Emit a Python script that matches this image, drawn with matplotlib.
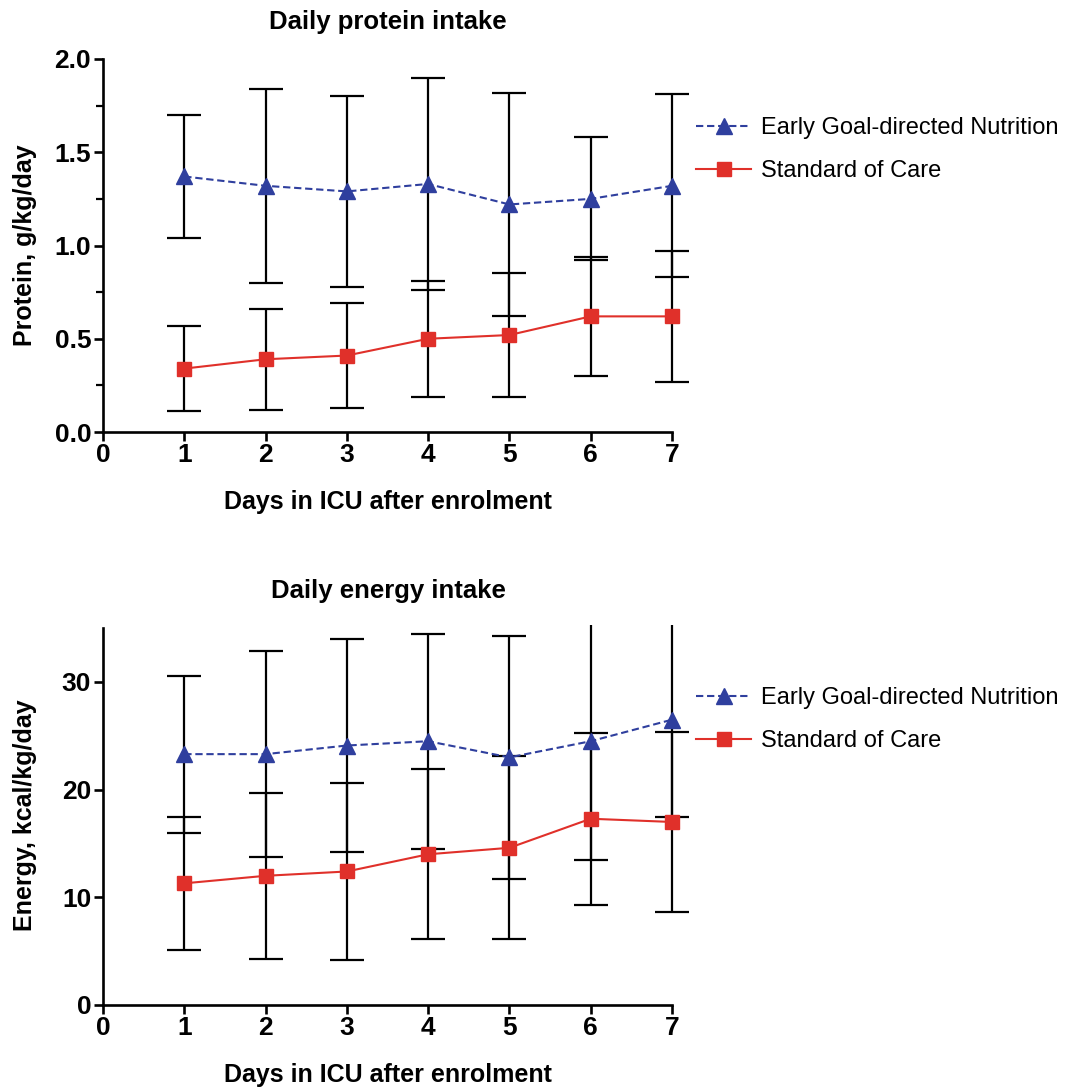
import matplotlib
matplotlib.use("Agg")
import matplotlib.pyplot as plt

days = [1, 2, 3, 4, 5, 6, 7]
series_names = ["Early Goal-directed Nutrition", "Standard of Care"]

protein_egdn_mean = [1.37, 1.32, 1.29, 1.33, 1.22, 1.25, 1.32]
protein_egdn_sd = [0.33, 0.52, 0.51, 0.57, 0.60, 0.33, 0.49]
protein_soc_mean = [0.34, 0.39, 0.41, 0.50, 0.52, 0.62, 0.62]
protein_soc_sd = [0.23, 0.27, 0.28, 0.31, 0.33, 0.32, 0.35]

energy_egdn_mean = [23.3, 23.3, 24.1, 24.5, 23.0, 24.5, 26.5]
energy_egdn_sd = [7.3, 9.6, 9.9, 10.0, 11.3, 11.0, 9.0]
energy_soc_mean = [11.3, 12.0, 12.4, 14.0, 14.6, 17.3, 17.0]
energy_soc_sd = [6.2, 7.7, 8.2, 7.9, 8.5, 8.0, 8.4]

x_ticks = [0, 1, 2, 3, 4, 5, 6, 7]

BLUE = "#2f3f9e"
RED = "#e0302a"
SANS = ["Liberation Sans", "DejaVu Sans"]

W, H = 1073, 1091
fig = plt.figure(figsize=(W / 100, H / 100), dpi=100)

px_per_day = (672 - 103) / 7.0
XMAX = 7.3
AX_W = XMAX * px_per_day
E_TOP = 35.25
e_px_per_unit = (1005 - 682) / 30.0


def make_axes(bottom_px, top_px):
    return fig.add_axes([103 / W, 1 - bottom_px / H, AX_W / W, (bottom_px - top_px) / H])


def style(ax, ymax_spine, yticks, ylabels, minor=None):
    for s in ["top", "right"]:
        ax.spines[s].set_visible(False)
    for s in ["left", "bottom"]:
        ax.spines[s].set_linewidth(1.9)
    ax.spines["bottom"].set_bounds(0, 7)
    ax.spines["left"].set_bounds(0, ymax_spine)
    ax.set_xticks(x_ticks)
    ax.set_xticklabels([str(t) for t in x_ticks])
    ax.set_yticks(yticks)
    ax.set_yticklabels(ylabels)
    if minor is not None:
        ax.set_yticks(minor, minor=True)
        ax.tick_params(axis="y", which="minor", length=5, width=1.6)
    ax.tick_params(axis="both", which="major", length=6.5, width=1.9, labelsize=19)
    ax.tick_params(axis="y", which="major", pad=2)
    ax.tick_params(axis="x", which="major", pad=1.5)
    for lab in ax.get_xticklabels() + ax.get_yticklabels():
        lab.set_family(SANS)
        lab.set_fontweight("bold")


def draw(ax, m1, s1, m2, s2):
    ax.errorbar(days, m1, yerr=s1, fmt="none", ecolor="black", elinewidth=1.6,
                capsize=12, capthick=1.6, zorder=2)
    ax.errorbar(days, m2, yerr=s2, fmt="none", ecolor="black", elinewidth=1.6,
                capsize=12, capthick=1.6, zorder=2)
    l1, = ax.plot(days, m1, color=BLUE, linestyle=(0, (3.5, 1.8)), linewidth=1.5,
                  marker="^", markersize=12, markerfacecolor=BLUE, markeredgecolor=BLUE,
                  zorder=3, label=series_names[0])
    l2, = ax.plot(days, m2, color=RED, linestyle="-", linewidth=1.5,
                  marker="s", markersize=10.5, markerfacecolor=RED, markeredgecolor=RED,
                  zorder=4, label=series_names[1])
    return l1, l2


def labels(ax, title, ylabel, top_px, bottom_px, title_base_px):
    h = bottom_px - top_px
    cx = (388 - 103) / AX_W
    ax.set_title(title, fontsize=18.5, fontweight="bold", family=SANS,
                 x=cx, y=1 + (top_px - title_base_px) / h, pad=0)
    ax.set_ylabel(ylabel, fontsize=18, fontweight="bold", family=SANS)
    ax.yaxis.set_label_coords((37 - 103) / AX_W, 0.5)
    ax.set_xlabel("Days in ICU after enrolment", fontsize=18, fontweight="bold", family=SANS)
    ax.xaxis.set_label_coords(cx, -(490 - 432) / h)


# Top: protein
top1, bot1 = 59, 432
ax1 = make_axes(bot1, top1)
ax1.set_xlim(0, XMAX)
ax1.set_ylim(0, 2.0)
l1, l2 = draw(ax1, protein_egdn_mean, protein_egdn_sd, protein_soc_mean, protein_soc_sd)
style(ax1, 2.0, [0, 0.5, 1.0, 1.5, 2.0], ["0.0", "0.5", "1.0", "1.5", "2.0"],
      minor=[0.25, 0.75, 1.25, 1.75])
labels(ax1, "Daily protein intake", "Protein, g/kg/day", top1, bot1, 29)

# Bottom: energy
bot2 = 1005
top2 = bot2 - E_TOP * e_px_per_unit
ax2 = make_axes(bot2, top2)
ax2.set_xlim(0, XMAX)
ax2.set_ylim(0, E_TOP)
draw(ax2, energy_egdn_mean, energy_egdn_sd, energy_soc_mean, energy_soc_sd)
style(ax2, 35, [0, 10, 20, 30], ["0", "10", "20", "30"])
labels(ax2, "Daily energy intake", "Energy, kcal/kg/day", top2, bot2, 598)

for row_center in (128, 698):
    fig.legend([l1, l2], series_names, loc="upper left",
               bbox_to_anchor=(696 / W, 1 - (row_center - 11) / H),
               frameon=False, prop={"family": SANS, "size": 17},
               handlelength=2.35, handletextpad=0.42, labelspacing=0.9, borderpad=0,
               borderaxespad=0)

fig.savefig("out.png", dpi=100)
